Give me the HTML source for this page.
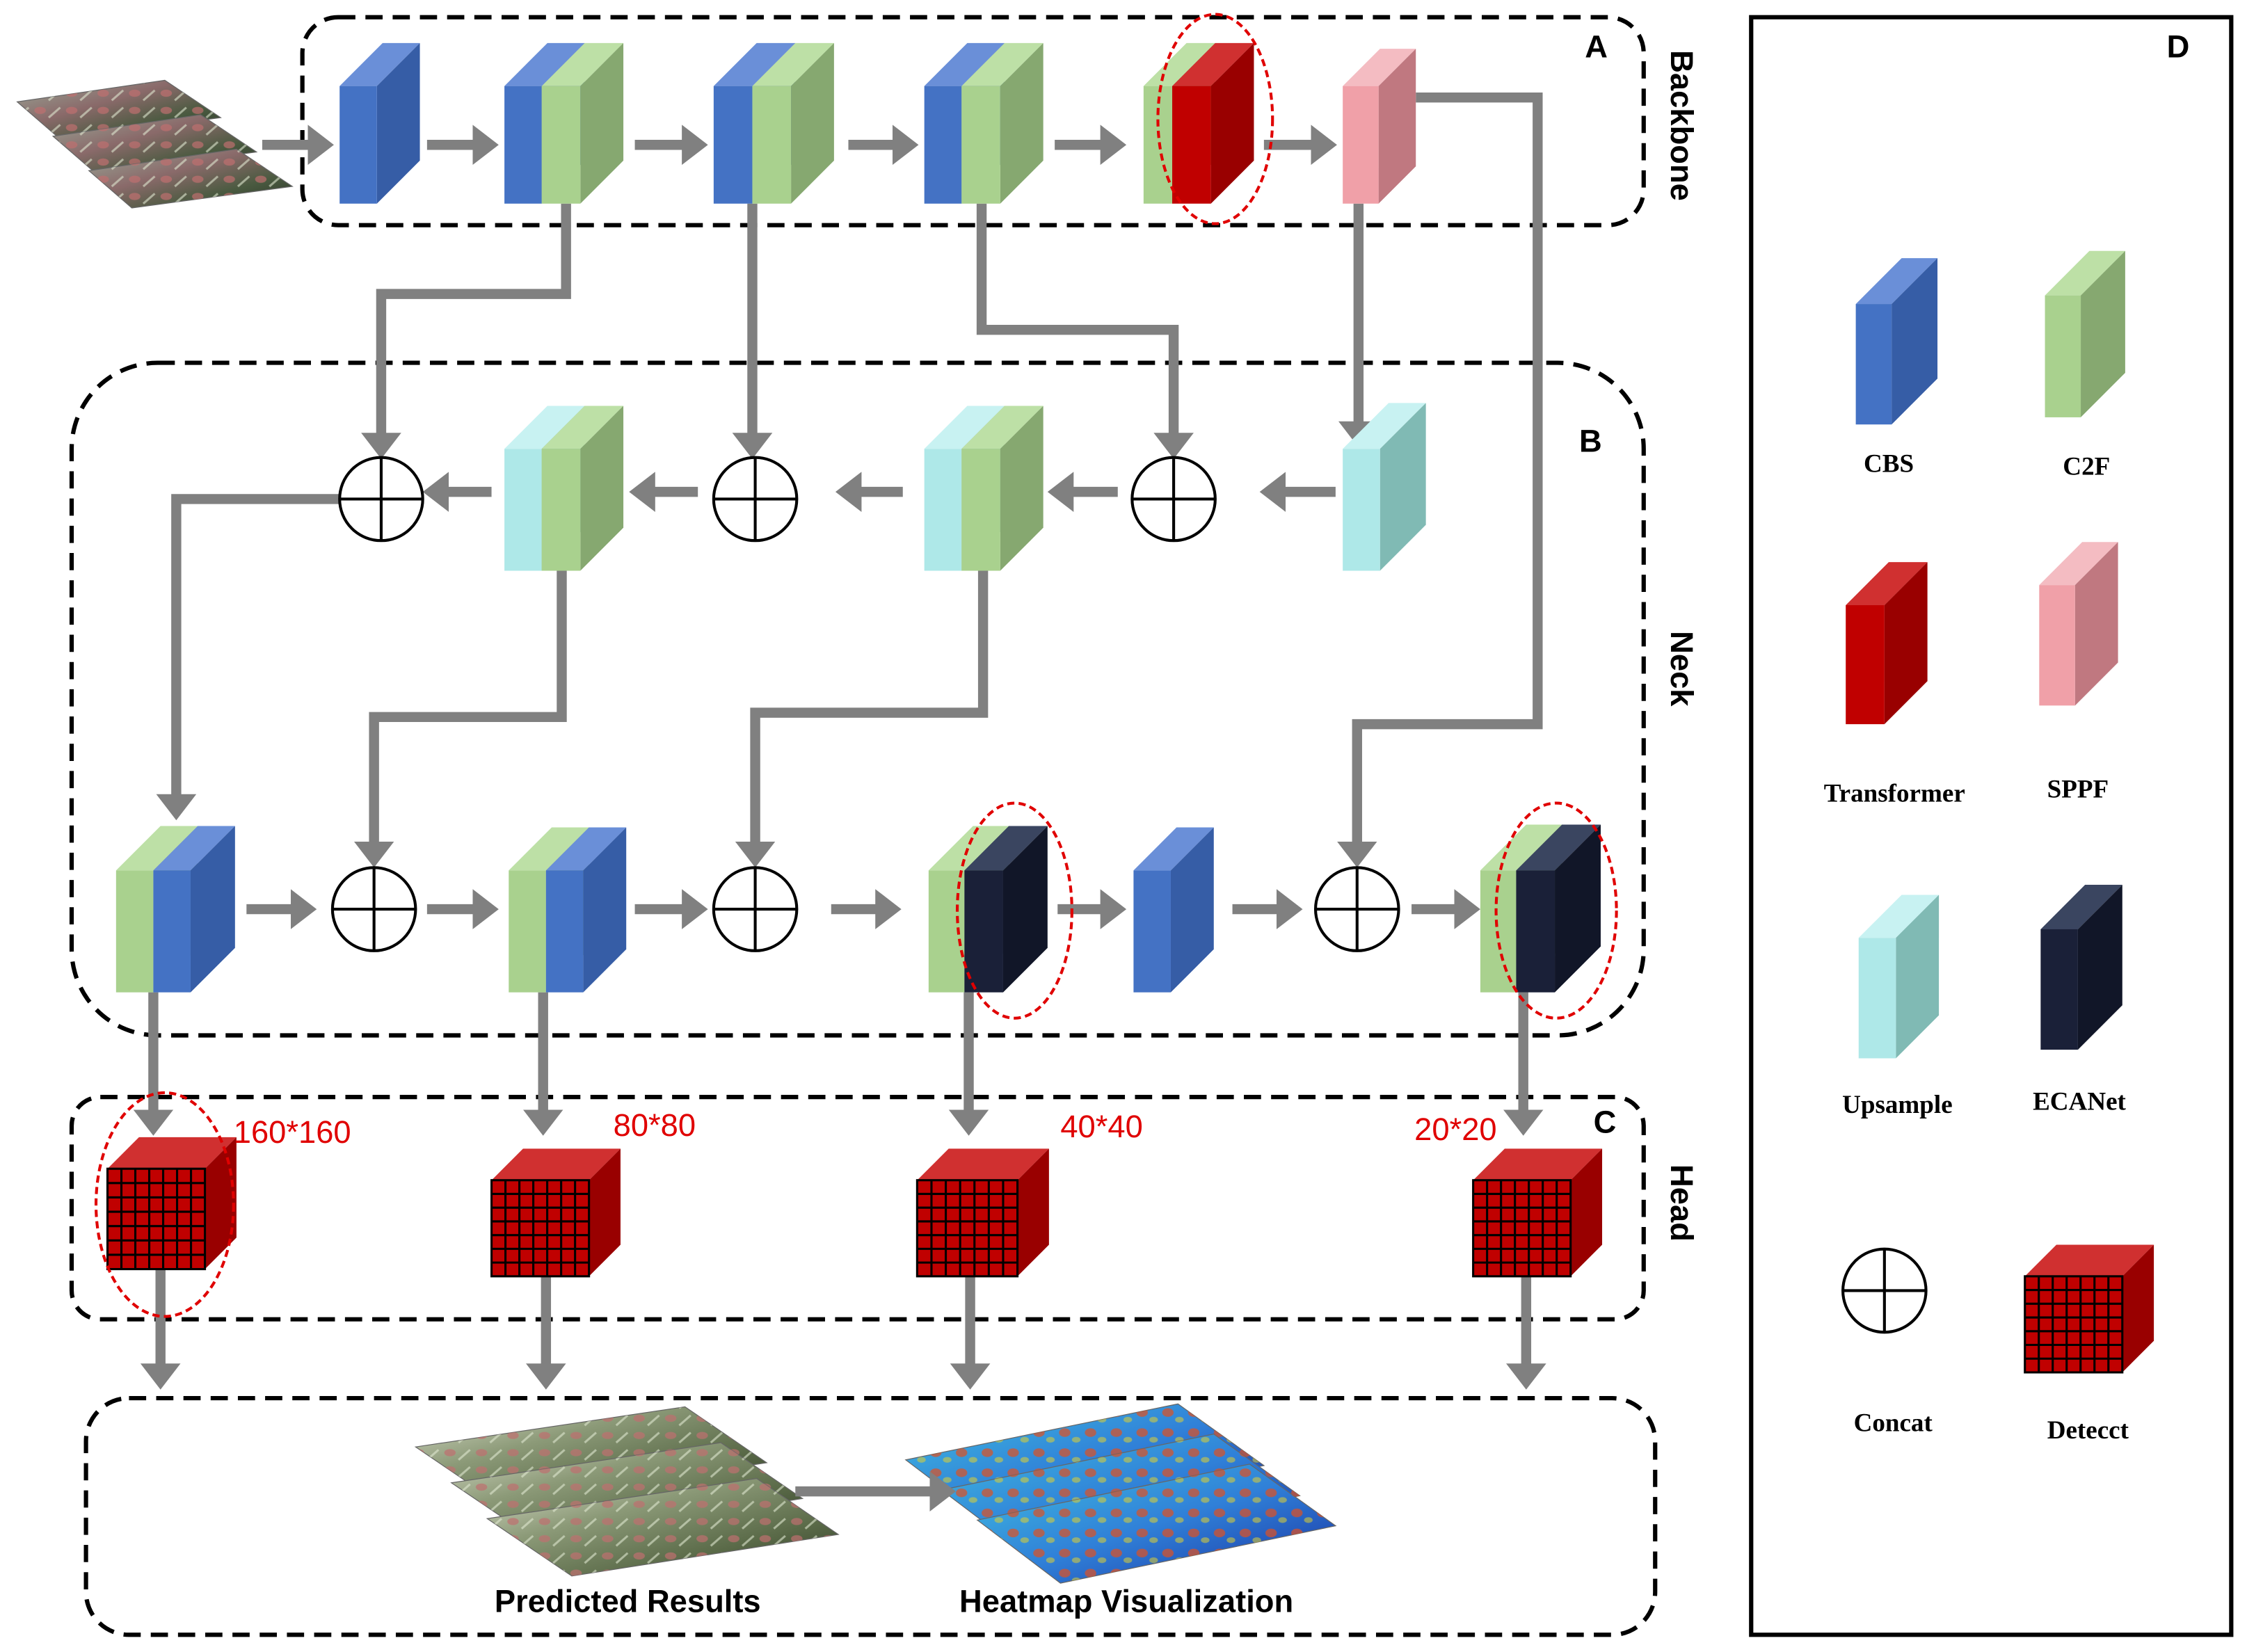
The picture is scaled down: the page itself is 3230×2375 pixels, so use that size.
<!DOCTYPE html>
<html><head><meta charset="utf-8"><style>
html,body{margin:0;padding:0;background:#fff}
svg{display:block}
.t{font-family:"Liberation Sans",sans-serif;font-weight:bold;font-size:22px;fill:#000}
.s{font-family:"Liberation Serif",serif;font-weight:bold;font-size:18px;fill:#000}
.r{font-family:"Liberation Sans",sans-serif;font-size:22px;fill:#e00000}
</style></head><body>
<svg id="g" width="3230" height="2375" viewBox="0 0 1568 1152" preserveAspectRatio="none" xmlns="http://www.w3.org/2000/svg">
<defs>
<linearGradient id="img" x1="0" y1="0" x2="1" y2="1"><stop offset="0" stop-color="#d8dcc8"/><stop offset=".35" stop-color="#8c9a78"/><stop offset=".7" stop-color="#5a6a48"/><stop offset="1" stop-color="#2e3a26"/></linearGradient>
<linearGradient id="img2" x1="0" y1="0" x2="1" y2="1"><stop offset="0" stop-color="#9aa898"/><stop offset=".4" stop-color="#8a6a6a"/><stop offset=".7" stop-color="#4a5a40"/><stop offset="1" stop-color="#2a3528"/></linearGradient>
<pattern id="fruit" width="22" height="12" patternUnits="userSpaceOnUse"><ellipse cx="6" cy="5" rx="4" ry="2.5" fill="#c07070" opacity=".7"/><path d="M12,10 L20,3" stroke="#dfe8d0" stroke-width="1.5" opacity=".6"/></pattern>
<pattern id="spots" width="18" height="14" patternUnits="userSpaceOnUse"><ellipse cx="5" cy="5" rx="4" ry="3" fill="#e05020" opacity=".7"/><ellipse cx="13" cy="10" rx="3" ry="2" fill="#e0d030" opacity=".55"/></pattern>
<linearGradient id="heat" x1="0" y1="0" x2="1" y2="1"><stop offset="0" stop-color="#40c0e0"/><stop offset=".5" stop-color="#3080d8"/><stop offset="1" stop-color="#1830a0"/></linearGradient>
<marker id="ah" markerWidth="4" markerHeight="4" refX="1.6" refY="2" orient="auto" markerUnits="strokeWidth"><path d="M0,0 L2.6,2 L0,4 z" fill="#808080"/></marker>
</defs>
<g fill="none" stroke="#000" stroke-width="3" stroke-dasharray="12,7">
<rect x="211" y="12" width="936" height="145" rx="25"/>
<rect x="50" y="253" width="1097" height="469" rx="60"/>
<rect x="50" y="765" width="1097" height="155" rx="20"/>
<rect x="60" y="975" width="1095" height="165" rx="30"/>
</g>
<rect x="1222" y="12" width="335" height="1128" fill="none" stroke="#000" stroke-width="3"/>
<g id="shapes"></g>
<g id="ell" fill="none" stroke="#e00000" stroke-width="2" stroke-dasharray="5,3">
<ellipse cx="848" cy="83" rx="40" ry="73"/>
<ellipse cx="708" cy="635" rx="40" ry="75"/>
<ellipse cx="1086" cy="635" rx="42" ry="75"/>
<ellipse cx="115" cy="840" rx="48" ry="78"/>
</g>
<text class="t" x="1106" y="40">A</text>
<text class="t" x="1102" y="315">B</text>
<text class="t" x="1112" y="790">C</text>
<text class="t" x="1512" y="40">D</text>
<text class="t" transform="translate(1166,35) rotate(90)">Backbone</text>
<text class="t" transform="translate(1166,440) rotate(90)">Neck</text>
<text class="t" transform="translate(1166,812) rotate(90)">Head</text>
<text class="r" x="163" y="797">160*160</text>
<text class="r" x="428" y="792">80*80</text>
<text class="r" x="740" y="793">40*40</text>
<text class="r" x="987" y="795">20*20</text>
<text class="t" x="438" y="1124" text-anchor="middle">Predicted  Results</text>
<text class="t" x="786" y="1124" text-anchor="middle">Heatmap Visualization</text>
<text class="s" x="1318" y="329" text-anchor="middle">CBS</text>
<text class="s" x="1456" y="331" text-anchor="middle">C2F</text>
<text class="s" x="1322" y="559" text-anchor="middle">Transformer</text>
<text class="s" x="1450" y="556" text-anchor="middle">SPPF</text>
<text class="s" x="1324" y="776" text-anchor="middle">Upsample</text>
<text class="s" x="1451" y="774" text-anchor="middle">ECANet</text>
<text class="s" x="1321" y="998" text-anchor="middle">Concat</text>
<text class="s" x="1457" y="1003" text-anchor="middle">Detecct</text>
</svg>
<script>
var S=document.getElementById('shapes'),h='';
var C={b:['#4472c4','#365da6','#6a8fd8'],g:['#a9d18e','#86a870','#bde0a6'],r:['#c00000','#990000','#d03030'],p:['#f0a0a8','#c07880','#f4bcc2'],c:['#aee8e8','#80bab4','#c8f2f2'],n:['#1a2038','#111628','#3a4560']};
function blk(x,y,w,hh,c,d){d=d||30;var k=C[c];
h+='<polygon points="'+x+','+y+' '+(x+d)+','+(y-d)+' '+(x+w+d)+','+(y-d)+' '+(x+w)+','+y+'" fill="'+k[2]+'"/>';
h+='<polygon points="'+(x+w)+','+y+' '+(x+w+d)+','+(y-d)+' '+(x+w+d)+','+(y+hh-d)+' '+(x+w)+','+(y+hh)+'" fill="'+k[1]+'"/>';
h+='<rect x="'+x+'" y="'+y+'" width="'+w+'" height="'+hh+'" fill="'+k[0]+'"/>';}
function two(x,y,hh,c1,c2,w1,w2,d){blk(x,y,w1,hh,c1,d);blk(x+w1,y,w2,hh,c2,d);}
function ln(pts,arrow){h+='<polyline points="'+pts+'" fill="none" stroke="#808080" stroke-width="7" '+(arrow?'marker-end="url(#ah)"':'')+'/>';}
function circ(x,y){h+='<circle cx="'+x+'" cy="'+y+'" r="29" fill="#fff" stroke="#000" stroke-width="2"/><line x1="'+(x-29)+'" y1="'+y+'" x2="'+(x+29)+'" y2="'+y+'" stroke="#000" stroke-width="2"/><line x1="'+x+'" y1="'+(y-29)+'" x2="'+x+'" y2="'+(y+29)+'" stroke="#000" stroke-width="2"/>';}
function det(x,y,w,hh,d){blk(x,y,w,hh,'r',d);for(var i=1;i<7;i++){h+='<line x1="'+(x+w*i/7)+'" y1="'+y+'" x2="'+(x+w*i/7)+'" y2="'+(y+hh)+'" stroke="#000" stroke-width="1.5"/><line x1="'+x+'" y1="'+(y+hh*i/7)+'" x2="'+(x+w)+'" y2="'+(y+hh*i/7)+'" stroke="#000" stroke-width="1.5"/>';}h+='<rect x="'+x+'" y="'+y+'" width="'+w+'" height="'+hh+'" fill="none" stroke="#000" stroke-width="1.5"/>';}
function quad(p,dx,dy,f,extra){var s=p.map(function(q){return (q[0]+dx)+','+(q[1]+dy)}).join(' ');h+='<polygon points="'+s+'" fill="'+f+'" stroke="#666" stroke-width="0.6"/>';if(extra)h+='<polygon points="'+s+'" fill="'+extra+'"/>';}
ln('395,142 395,205 266,205 266,313',1);
ln('525,142 525,313',1);
ln('685,142 685,230 819,230 819,313',1);
ln('948,142 948,305',1);
ln('988,68 1073,68 1073,505 947,505 947,598',1);
ln('266,348 123,348 123,565',1);
ln('392,398 392,500 261,500 261,598',1);
ln('686,398 686,497 527,497 527,598',1);
[[107,692,785],[379,692,785],[676,692,785],[1063,692,785]].forEach(function(a){ln(a[0]+','+a[1]+' '+a[0]+','+a[2],1)});
[[112,885,962],[381,890,962],[677,890,962],[1065,890,962]].forEach(function(a){ln(a[0]+','+a[1]+' '+a[0]+','+a[2],1)});
[[183,226],[298,341],[443,487],[592,634],[736,779],[882,926]].forEach(function(a){ln(a[0]+',101 '+a[1]+',101',1)});
[[932,886],[780,738],[630,590],[487,446],[343,302]].forEach(function(a){ln(a[0]+',343 '+a[1]+',343',1)});
[[172,214],[298,341],[443,487],[580,622],[738,779],[860,902],[985,1026]].forEach(function(a){ln(a[0]+',634 '+a[1]+',634',1)});
// input images
var ip=[[12,71],[115,56],[154,82],[42,97]];
for(var i=0;i<3;i++)quad(ip,25*i,24*i,'url(#img2)','url(#fruit)');
// backbone
blk(237,60,26,82,'b');
two(352,60,82,'b','g',26,27);two(498,60,82,'b','g',27,27);two(645,60,82,'b','g',26,27);
two(798,60,82,'g','r',20,27);blk(937,60,25,82,'p',26);
// neck
two(352,313,85,'c','g',26,27);two(645,313,85,'c','g',26,27);blk(937,313,26,85,'c',32);
circ(266,348);circ(527,348);circ(819,348);
two(81,607,85,'g','b',26,26,31);two(355,607,85,'g','b',26,26,30);two(648,607,85,'g','n',25,27,31);
blk(791,607,26,85,'b',30);two(1033,607,85,'g','n',25,27,32);
circ(261,634);circ(527,634);circ(947,634);
// heads
det(75,815,68,70,22);det(343,823,68,67,22);det(640,823,70,67,22);det(1028,823,68,67,22);
// bottom images
var pp=[[290,1009],[478,981],[535,1020],[349,1049]];
for(var i=0;i<3;i++)quad(pp,25*i,25*i,'url(#img)','url(#fruit)');
var hp=[[632,1018],[822,979],[882,1022],[690,1062]];
for(var i=0;i<3;i++)quad(hp,25*i,21*i,'url(#heat)','url(#spots)');
ln('555,1040 660,1040',1);
// legend
blk(1295,212,25,84,'b',32);blk(1427,206,25,85,'g',31);blk(1288,422,27,83,'r',30);blk(1423,408,25,84,'p',30);
blk(1297,654,26,84,'c',30);blk(1424,648,26,84,'n',31);circ(1315,900);det(1413,890,68,67,22);
S.innerHTML=h;
</script>
</body></html>
